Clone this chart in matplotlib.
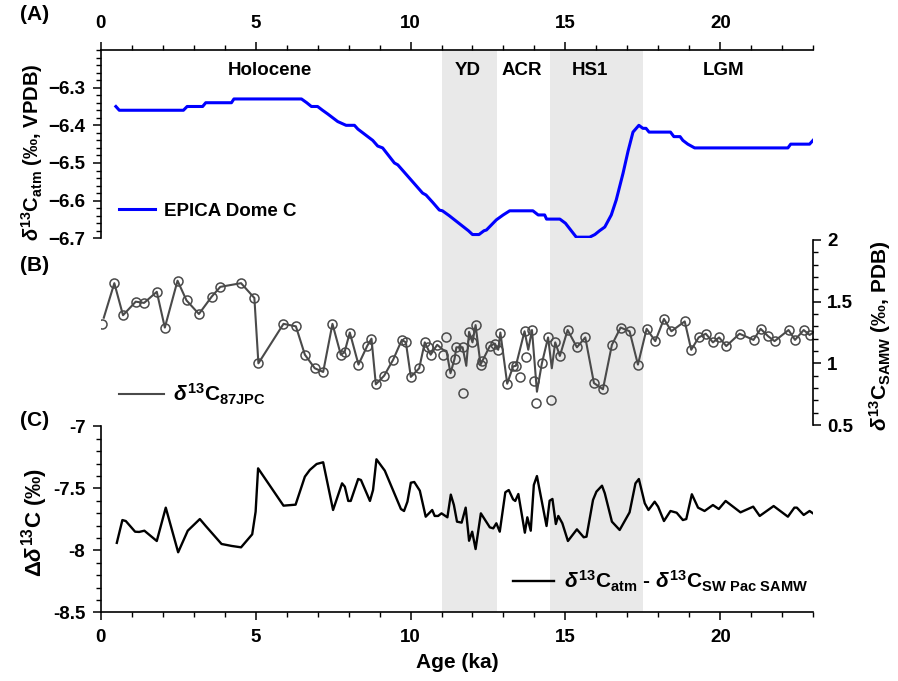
import matplotlib
matplotlib.use("Agg")
import matplotlib.pyplot as plt
import matplotlib.transforms as mtransforms
from matplotlib.ticker import MultipleLocator

plt.rcParams['font.family'] = ['Liberation Sans', 'DejaVu Sans']
plt.rcParams['font.weight'] = 'bold'
plt.rcParams['mathtext.fontset'] = 'custom'
plt.rcParams['mathtext.rm'] = 'Liberation Sans:bold'
plt.rcParams['mathtext.bf'] = 'Liberation Sans:bold'
plt.rcParams['mathtext.it'] = 'Liberation Sans:bold:italic'
plt.rcParams['mathtext.sf'] = 'Liberation Sans:bold'
plt.rcParams['mathtext.default'] = 'rm'

# ---------------- data ----------------
# (A) EPICA Dome C atmospheric d13C
epica_age = [0.49, 0.6, 2.67, 2.79, 3.29, 3.39, 4.22, 4.30, 6.48, 6.65, 6.80, 7.00, 7.16, 7.33,
             7.49, 7.65, 7.92, 8.19, 8.30, 8.46, 8.62, 8.78, 8.94, 9.10, 9.48, 9.59, 10.39,
             10.50, 10.72, 10.93, 11.03, 11.25, 11.87, 12.0, 12.21, 12.37, 12.45, 12.77, 12.99,
             13.2, 13.95, 14.12, 14.33, 14.39, 14.82, 15.0, 15.35, 15.78, 15.95, 16.1, 16.27,
             16.48, 16.64, 16.86, 17.02, 17.18, 17.37, 17.5, 17.6, 17.7, 18.39, 18.5, 18.7,
             18.79, 18.95, 19.17, 22.18, 22.27, 22.88, 22.99]
epica_d13c = [-6.35, -6.36, -6.36, -6.35, -6.35, -6.34, -6.34, -6.33, -6.33, -6.34, -6.35, -6.35,
              -6.36, -6.37, -6.38, -6.39, -6.40, -6.40, -6.41, -6.42, -6.43, -6.44, -6.455, -6.46,
              -6.50, -6.505, -6.58, -6.585, -6.605, -6.625, -6.627, -6.64, -6.68, -6.69, -6.69,
              -6.68, -6.678, -6.651, -6.638, -6.627, -6.627, -6.638, -6.638, -6.649, -6.649,
              -6.66, -6.697, -6.697, -6.69, -6.68, -6.67, -6.638, -6.598, -6.527, -6.469, -6.418,
              -6.40, -6.408, -6.408, -6.418, -6.418, -6.43, -6.43, -6.44, -6.45, -6.46, -6.46,
              -6.45, -6.45, -6.44]

# (B) 87JPC benthic d13C (SAMW) - connecting line
jpc_line_age = [0.10, 0.44, 0.72, 1.13, 1.40, 1.81, 2.07, 2.48, 2.77, 3.17, 3.58, 3.86, 4.53, 4.96,
                5.09, 5.90, 6.30, 6.59, 6.91, 7.18, 7.48, 7.75, 7.87, 8.04, 8.32, 8.60, 8.74, 8.88,
                9.15, 9.44, 9.72, 9.85, 10.01, 10.28, 10.46, 10.65, 10.86, 11.05, 11.16, 11.29,
                11.42, 11.48, 11.68, 11.80, 11.89, 12.00, 12.10, 12.26, 12.32, 12.56, 12.72, 12.83,
                12.90, 13.12, 13.31, 13.40, 13.68, 13.80, 13.92, 14.08, 14.24, 14.44, 14.56, 14.67,
                14.82, 15.07, 15.37, 15.64, 15.92, 16.21, 16.50, 16.78, 17.07, 17.34, 17.62, 17.90,
                18.18, 18.42, 18.85, 19.06, 19.30, 19.53, 19.76, 19.96, 20.19, 20.62, 21.07, 21.30,
                21.54, 21.75, 22.20, 22.41, 22.69, 22.88, 23.0]
jpc_line_val = [1.37, 1.65, 1.39, 1.50, 1.49, 1.58, 1.29, 1.67, 1.51, 1.40, 1.54, 1.62, 1.65, 1.53,
                1.00, 1.32, 1.30, 1.07, 0.96, 0.93, 1.32, 1.07, 1.09, 1.25, 0.99, 1.14, 1.20, 0.83,
                0.90, 1.03, 1.19, 1.17, 0.89, 0.96, 1.17, 1.07, 1.15, 1.11, 1.10, 0.92,
                1.035, 1.13, 1.13, 0.98, 1.255, 1.17, 1.31, 0.99, 1.02, 1.14, 1.16, 1.11,
                1.25, 0.835, 0.975, 0.98, 1.26, 1.11, 1.27, 0.77, 1.00, 1.21, 0.96, 1.17,
                1.06, 1.27, 1.13, 1.21, 0.84, 0.79, 1.15, 1.29, 1.26, 0.99, 1.28, 1.18,
                1.36, 1.26, 1.34, 1.11, 1.21, 1.24, 1.17, 1.21, 1.14, 1.24, 1.19, 1.28,
                1.22, 1.18, 1.27, 1.19, 1.27, 1.23, 1.25]

# (B) 87JPC individual measurements (circles)
jpc_pts_age = [0.03, 0.44, 0.72, 1.13, 1.40, 1.81, 2.07, 2.48, 2.77, 3.17, 3.58, 3.86, 4.53, 4.96,
               5.09, 5.90, 6.30, 6.59, 6.91, 7.18, 7.48, 7.75, 7.87, 8.04, 8.32, 8.60, 8.74, 8.88,
               9.15, 9.44, 9.72, 9.85, 10.01, 10.28, 10.46, 10.58, 10.65, 10.86, 11.05, 11.14,
               11.29, 11.42, 11.48, 11.68, 11.70, 11.89, 12.00, 12.10, 12.26, 12.32, 12.56, 12.72,
               12.83, 12.90, 13.12, 13.31, 13.40, 13.53, 13.68, 13.74, 13.92, 13.98, 14.04, 14.24,
               14.44, 14.52, 14.67, 14.82, 15.07, 15.37, 15.64, 15.92, 16.21, 16.50, 16.78, 17.07,
               17.34, 17.62, 17.90, 18.18, 18.42, 18.85, 19.06, 19.30, 19.53, 19.76, 19.96, 20.19,
               20.62, 21.07, 21.30, 21.54, 21.75, 22.20, 22.41, 22.69, 22.88]
jpc_pts_val = [1.32, 1.65, 1.39, 1.50, 1.49, 1.58, 1.29, 1.67, 1.51, 1.40, 1.54, 1.62, 1.65, 1.53,
               1.00, 1.32, 1.30, 1.07, 0.96, 0.93, 1.32, 1.07, 1.09, 1.25, 0.99, 1.14, 1.20, 0.83,
               0.90, 1.03, 1.19, 1.17, 0.89, 0.96, 1.17, 1.13, 1.07, 1.15, 1.065, 1.21,
               0.92, 1.035, 1.13, 1.13, 0.76, 1.255, 1.17, 1.31, 0.99, 1.02, 1.14, 1.16,
               1.11, 1.25, 0.835, 0.975, 0.98, 0.89, 1.26, 1.05, 1.27, 0.86, 0.68, 1.00,
               1.21, 0.70, 1.17, 1.06, 1.27, 1.13, 1.21, 0.84, 0.79, 1.15, 1.29, 1.26,
               0.99, 1.28, 1.18, 1.36, 1.26, 1.34, 1.11, 1.21, 1.24, 1.17, 1.21, 1.14,
               1.24, 1.19, 1.28, 1.22, 1.18, 1.27, 1.19, 1.27, 1.23]

# (C) d13C_atm - d13C_SW Pac SAMW
diff_age = [0.52, 0.70, 0.81, 1.11, 1.24, 1.41, 1.81, 2.10, 2.50, 2.81, 3.20, 3.39, 3.90, 4.23,
            4.53, 4.89, 5.00, 5.08, 5.90, 6.29, 6.59, 6.75, 6.97, 7.18, 7.50, 7.79, 7.88, 7.99,
            8.07, 8.31, 8.40, 8.69, 8.79, 8.90, 9.17, 9.69, 9.79, 9.90, 10.01, 10.12, 10.30,
            10.49, 10.70, 10.78, 10.89, 11.00, 11.19, 11.30, 11.40, 11.50, 11.65, 11.78, 11.89,
            11.99, 12.10, 12.27, 12.56, 12.67, 12.77, 12.88, 13.06, 13.17, 13.31, 13.38, 13.48,
            13.69, 13.77, 13.88, 13.98, 14.08, 14.39, 14.49, 14.58, 14.69, 14.77, 14.90, 15.08,
            15.37, 15.59, 15.68, 15.89, 16.00, 16.18, 16.27, 16.50, 16.75, 17.07, 17.26, 17.37,
            17.56, 17.68, 17.88, 17.99, 18.18, 18.39, 18.59, 18.79, 18.90, 19.08, 19.28, 19.49,
            19.76, 19.95, 20.17, 20.65, 21.06, 21.27, 21.72, 22.18, 22.39, 22.47, 22.69, 22.88,
            22.99]
diff_val = [-7.94, -7.756, -7.764, -7.85, -7.852, -7.842, -7.925, -7.656, -8.016, -7.842, -7.748,
            -7.804, -7.949, -7.965, -7.976, -7.871, -7.689, -7.339, -7.64, -7.632, -7.406, -7.352,
            -7.304, -7.29, -7.675, -7.46, -7.487, -7.602, -7.602, -7.425, -7.433, -7.602, -7.514,
            -7.266, -7.358, -7.667, -7.683, -7.608, -7.455, -7.449, -7.519, -7.729, -7.675,
            -7.723, -7.723, -7.702, -7.734, -7.551, -7.635, -7.769, -7.777, -7.656, -7.923,
            -7.85, -7.99, -7.702, -7.815, -7.823, -7.782, -7.85, -7.532, -7.514, -7.589, -7.602,
            -7.546, -7.858, -7.734, -7.842, -7.473, -7.401, -7.804, -7.60, -7.586, -7.788,
            -7.723, -7.782, -7.925, -7.831, -7.895, -7.89, -7.594, -7.527, -7.479, -7.54,
            -7.769, -7.836, -7.694, -7.46, -7.425, -7.621, -7.675, -7.608, -7.648, -7.764,
            -7.683, -7.697, -7.756, -7.748, -7.548, -7.656, -7.683, -7.635, -7.667, -7.602,
            -7.694, -7.648, -7.723, -7.643, -7.729, -7.656, -7.656, -7.715, -7.683, -7.702]

# climate intervals
interval_names = ['Holocene', 'YD', 'ACR', 'HS1', 'LGM']
interval_label_x = [5.47, 11.85, 13.6, 15.8, 20.1]
shaded_start = [11.0, 14.5]
shaded_end = [12.8, 17.5]

xticks_major = [0, 5, 10, 15, 20]

# ---------------- figure ----------------
W, H = 898, 681
fig = plt.figure(figsize=(W / 100, H / 100), dpi=100)

def px_axes(x0, x1, ytop, ybot):
    return [x0 / W, 1 - ybot / H, (x1 - x0) / W, (ybot - ytop) / H]

XL, XR = 100.7, 813.3
FS = 13.5      # tick labels & interval names
FL = 13.5      # legend text

bg = fig.add_axes(px_axes(XL, XR, 50, 612.3))
bg.set_xlim(0, 23)
bg.set_ylim(0, 1)
for s, e in zip(shaded_start, shaded_end):
    bg.axvspan(s, e, color='#e9e9e9', lw=0)
bg.axis('off')

axA = fig.add_axes(px_axes(XL, XR, 50, 238.3))
axB = fig.add_axes(px_axes(XL, XR, 240, 425))
axC = fig.add_axes(px_axes(XL, XR, 426.3, 612.3))
for ax in (axA, axB, axC):
    ax.patch.set_alpha(0)
    ax.set_xlim(0, 23)
    for sp in ax.spines.values():
        sp.set_visible(False)
        sp.set_linewidth(1.2)

tick_kw = dict(width=1.1, labelsize=FS, colors='black')

# ---- Panel A
axA.plot(epica_age, epica_d13c, color='#0000ff', lw=2.2, label='EPICA Dome C')
axA.set_ylim(-6.7, -6.2)
axA.spines['left'].set_visible(True)
axA.spines['top'].set_visible(True)
axA.xaxis.set_ticks_position('top')
axA.xaxis.set_label_position('top')
axA.set_xticks(xticks_major)
axA.xaxis.set_minor_locator(MultipleLocator(1))
axA.set_yticks([-6.7, -6.6, -6.5, -6.4, -6.3])
axA.yaxis.set_minor_locator(MultipleLocator(0.02))
axA.tick_params(axis='both', which='major', direction='out', length=6, **tick_kw)
axA.tick_params(axis='both', which='minor', direction='out', length=3.5, width=1.0)
axA.tick_params(axis='x', pad=7)
axA.tick_params(axis='y', pad=5)
for lbl in axA.get_xticklabels() + axA.get_yticklabels():
    lbl.set_fontweight('bold')
trA = mtransforms.blended_transform_factory(axA.transData, axA.transAxes)
for name, xx in zip(interval_names, interval_label_x):
    axA.text(xx, 0.893, name, transform=trA, ha='center', va='center', fontsize=FS, fontweight='bold')
axA.legend(loc='center left', bbox_to_anchor=(0.026, 0.145), frameon=False,
           handlelength=1.9, handletextpad=0.5, borderpad=0, borderaxespad=0,
           prop={'weight': 'bold', 'size': FL})

# ---- Panel B
axB.plot(jpc_line_age, jpc_line_val, color='#4a4a4a', lw=1.5, label=r'$\mathit{\delta}^{13}$C$_{87JPC}$')
axB.plot(jpc_pts_age, jpc_pts_val, ls='none', marker='o', ms=6.5, mfc='none', mec='#4a4a4a', mew=1.1)
axB.set_ylim(0.5, 2.0)
axB.spines['right'].set_visible(True)
axB.yaxis.set_ticks_position('right')
axB.set_xticks([])
axB.set_yticks([0.5, 1.0, 1.5, 2.0])
axB.set_yticklabels(['0.5', '1', '1.5', '2'])
axB.yaxis.set_minor_locator(MultipleLocator(0.1))
axB.tick_params(axis='y', which='major', direction='out', length=6, pad=4, **tick_kw)
axB.tick_params(axis='y', which='minor', direction='out', length=3.5, width=1.0)
for lbl in axB.get_yticklabels():
    lbl.set_fontweight('bold')
axB.legend(loc='center left', bbox_to_anchor=(0.025, 0.165), frameon=False,
           handlelength=2.2, handletextpad=0.4, borderpad=0, borderaxespad=0,
           prop={'weight': 'bold', 'size': FL + 1.5})

# ---- Panel C
axC.plot(diff_age, diff_val, color='black', lw=1.7,
         label=r'$\mathit{\delta}^{13}$C$_{atm}$ - $\mathit{\delta}^{13}$C$_{SW\ Pac\ SAMW}$')
axC.set_ylim(-8.5, -7.0)
axC.spines['left'].set_visible(True)
axC.spines['bottom'].set_visible(True)
axC.set_xticks(xticks_major)
axC.xaxis.set_minor_locator(MultipleLocator(1))
axC.set_yticks([-8.5, -8, -7.5, -7])
axC.set_yticklabels(['-8.5', '-8', '-7.5', '-7'])
axC.yaxis.set_minor_locator(MultipleLocator(0.1))
axC.tick_params(axis='both', which='major', direction='out', length=6, **tick_kw)
axC.tick_params(axis='both', which='minor', direction='out', length=3.5, width=1.0)
axC.tick_params(axis='x', pad=6)
axC.tick_params(axis='y', pad=5)
for lbl in axC.get_xticklabels() + axC.get_yticklabels():
    lbl.set_fontweight('bold')
axC.legend(loc='center left', bbox_to_anchor=(0.578, 0.165), frameon=False,
           handlelength=2.0, handletextpad=0.45, borderpad=0, borderaxespad=0,
           prop={'weight': 'bold', 'size': FL + 1.5})
axC.set_xlabel('Age (ka)', fontsize=15, fontweight='bold', labelpad=5)

# ---- axis titles & panel letters
fig.text(32 / W, 1 - 152 / H, r'$\mathit{\delta}^{13}$C$_{atm}$ (‰, VPDB)', rotation=90,
         ha='center', va='center', fontsize=14.5, fontweight='bold')
fig.text(35 / W, 1 - 522 / H, r'$\Delta\mathit{\delta}^{13}$C (‰)', rotation=90,
         ha='center', va='center', fontsize=16, fontweight='bold')
fig.text(880 / W, 1 - 336 / H, r'$\mathit{\delta}^{13}$C$_{SAMW}$ (‰, PDB)', rotation=90,
         ha='center', va='center', fontsize=15, fontweight='bold')
for letter, yy in zip(['(A)', '(B)', '(C)'], [15, 266, 421]):
    fig.text(35 / W, 1 - yy / H, letter, ha='center', va='center', fontsize=15, fontweight='bold')

fig.savefig('out.png', dpi=100)
